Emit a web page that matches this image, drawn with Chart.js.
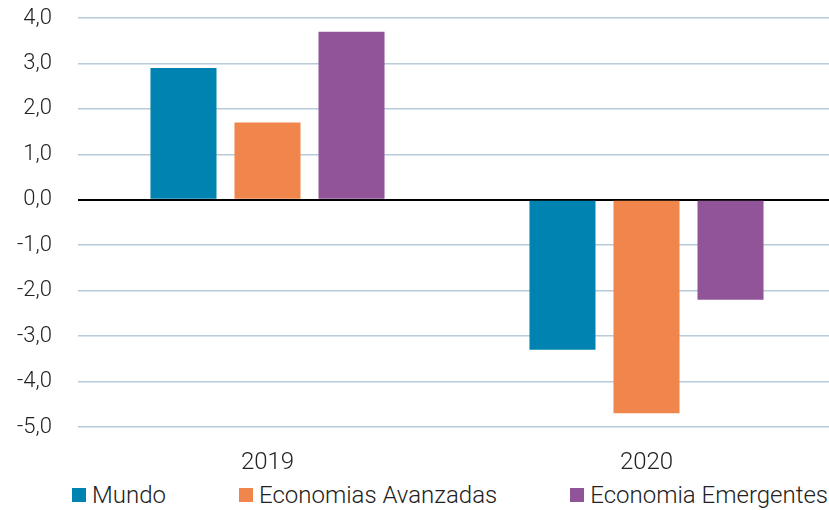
<!DOCTYPE html>
<html lang="es">
<head>
  <meta charset="UTF-8" />
  <title>Crecimiento PIB</title>
  <script src="https://cdn.jsdelivr.net/npm/chart.js"></script>
  <style>
    body { margin: 0; background: #fff; font-family: Roboto, sans-serif; overflow: hidden; }
    .wrap { position: relative; width: 836px; height: 478px; }
    #legend {
      position: absolute; left: 72px; top: 480px; width: 756px; height: 30px;
      display: flex; justify-content: space-between; align-items: center;
      font-size: 24px; font-weight: 300; color: #222;
    }
    #legend span.item { display: flex; align-items: center; white-space: nowrap; }
    #legend span.box { display: inline-block; width: 14px; height: 14px; margin-right: 6px; }
  </style>
</head>
<body>
  <div class="wrap"><canvas id="chart"></canvas></div>
  <div id="legend"></div>
  <script>
    const years = ['2019', '2020'];
    const mundo = [2.9, -3.3];
    const avanzadas = [1.7, -4.7];
    const emergentes = [3.7, -2.2];

    const font = "Roboto, sans-serif";

    const chart = new Chart(document.getElementById('chart'), {
      type: 'bar',
      data: {
        labels: years,
        datasets: [
          { label: 'Mundo', data: mundo, backgroundColor: '#0083b0' },
          { label: 'Economias Avanzadas', data: avanzadas, backgroundColor: '#f0864c' },
          { label: 'Economia Emergentes', data: emergentes, backgroundColor: '#925498' }
        ]
      },
      options: {
        responsive: true,
        maintainAspectRatio: false,
        animation: false,
        layout: { padding: 0 },
        datasets: { bar: { categoryPercentage: 0.665, barPercentage: 0.786 } },
        plugins: {
          legend: { display: false },
          tooltip: { enabled: false }
        },
        scales: {
          x: {
            grid: { display: false },
            border: { display: false },
            afterFit: s => { s.height = 51; },
            ticks: { color: '#222', font: { family: font, size: 24, weight: 300 }, padding: 14 }
          },
          y: {
            min: -5, max: 4,
            border: { display: false },
            afterFit: s => { s.width = 78; s.paddingTop = 18; s.paddingBottom = 0; },
            grid: {
              color: c => c.tick.value === 0 ? '#000' : '#b9cad8',
              lineWidth: c => c.tick.value === 0 ? 2 : 1.5,
              drawTicks: false
            },
            ticks: {
              stepSize: 1, padding: 26, color: '#222',
              font: { family: font, size: 22, weight: 300 },
              callback: v => v.toFixed(1).replace('.', ',')
            }
          }
        }
      }
    });

    // legend built from the chart's datasets
    const legend = document.getElementById('legend');
    chart.data.datasets.forEach(ds => {
      const item = document.createElement('span');
      item.className = 'item';
      const box = document.createElement('span');
      box.className = 'box';
      box.style.background = ds.backgroundColor;
      item.appendChild(box);
      item.appendChild(document.createTextNode(ds.label));
      legend.appendChild(item);
    });
  </script>
</body>
</html>
